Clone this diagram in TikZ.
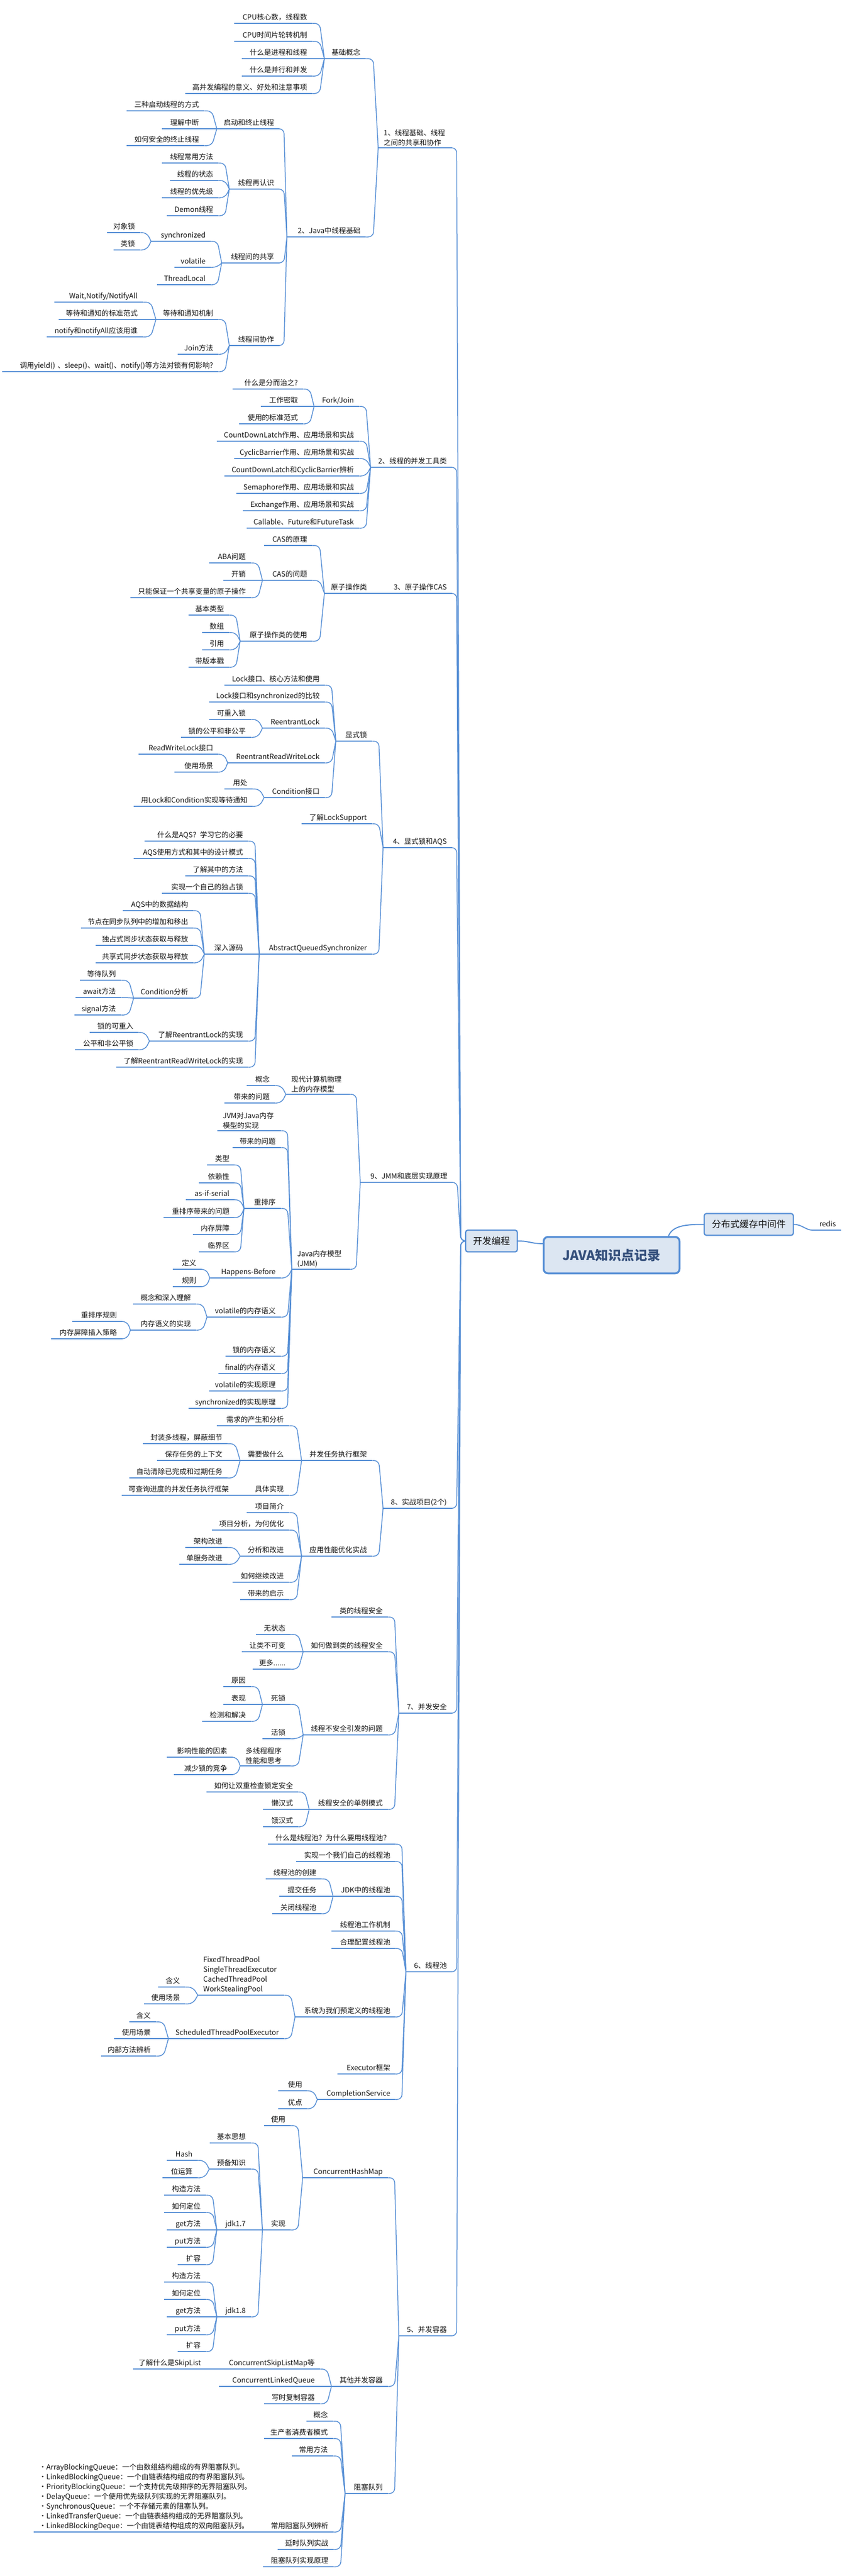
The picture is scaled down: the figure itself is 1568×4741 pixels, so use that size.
\documentclass[tikz,border=0pt]{standalone}
\usepackage{fontspec}
\setmainfont{Noto Sans CJK SC}
\usetikzlibrary{calc,backgrounds}
\definecolor{ln}{HTML}{558ED5}
\definecolor{txt}{HTML}{111111}
\definecolor{rootfill}{HTML}{DCE6F2}
\definecolor{roottxt}{HTML}{35507C}
\definecolor{bfill}{HTML}{EFF4E2}
\definecolor{bline}{HTML}{8DA84A}
\newcommand\fs{\fontsize{13.2}{18}\selectfont}
\tikzset{
 tp/.style={anchor=south west, inner xsep=10pt, inner ysep=3pt, align=right, font=\fs, text=txt, text height=10pt, text depth=3pt},
 tpm/.style={anchor=south west, inner xsep=10pt, inner ysep=3pt, align=left, font=\fs, text=txt},
 ulin/.style={draw=ln, line width=2.4pt},
 conn/.style={draw=ln, line width=1.5pt, rounded corners=9pt},
 rootbox/.style={draw=ln, line width=3.5pt, fill=rootfill, rounded corners=8pt, minimum width=250pt, minimum height=67pt, font=\fontsize{24}{28}\selectfont\bfseries, text=roottxt},
 midbox/.style={draw=ln, line width=2.2pt, fill=rootfill, rounded corners=4pt, minimum height=40pt, font=\fontsize{17}{20}\selectfont, text=txt},
 bnd/.style={draw=bline, line width=2pt, dash pattern=on 3pt off 2pt, fill=bfill, rounded corners=3pt}
}
\newcommand\TP[5]{\pgfmathsetmacro\tpw{#3-#2-20}\node[tp, text width=\tpw pt] (#1) at (#2,#4) {#5};\draw[ulin] (#1.south west) -- (#1.south east);}
\newcommand\TPM[5]{\pgfmathsetmacro\tpw{#3-#2-20}\node[tpm, text width=\tpw pt] (#1) at (#2,#4) {#5};\draw[ulin] (#1.south west) -- (#1.south east);}
\newcommand\CN[2]{\draw[conn] (#1.south east) -- ($(#1.south east)!0.6!(#2.south west |- #1.south east)$) -- (#2.south west);}
\newcommand\TK[1]{\draw[conn] (#1.south east) -- ++(8,0) -- ([xshift=-8pt]kfbc.west) -- (kfbc.west);}
\begin{document}
\begin{tikzpicture}[x=1pt,y=-1pt]
\fill[white] (0,0) rectangle (1568,4741);
\useasboundingbox (0,0) rectangle (1568,4741);
% ---------- central ----------
\node[rootbox] (root) at (1125.5,2310) {JAVA知识点记录};
\node[midbox, minimum width=95pt] (kfbc) at (904.5,2284) {开发编程};
\node[midbox, minimum width=164pt] (dist) at (1378,2253.5) {分布式缓存中间件};
\TP{redis}{1495}{1548}{2264}{redis}
\begin{scope}[on background layer]
\draw[bnd] ([shift={(-8,-37)}]redis.south west) rectangle ([shift={(8,10)}]redis.south east);
\end{scope}
\draw[draw=ln, line width=2pt] (kfbc.east) .. controls +(22,0) and +(-22,0) .. ($(root.north west)!0.2!(root.south west)$);
\draw[draw=ln, line width=2pt] ([xshift=-22pt]root.north east) .. controls +(8,-20) and +(-30,0) .. (dist.west);
\draw[draw=ln, line width=1.8pt] (dist.east) .. controls +(15,0) and +(-12,0) .. (redis.south west);
% ---------- section 1 ----------
\TPM{s1}{696}{832}{272}{1、线程基础、线程\\之间的共享和协作}
\TP{jc}{597}{673}{108}{基础概念}
\TP{a1}{431}{575}{43}{CPU核心数，线程数}
\TP{a2}{431}{575}{76}{CPU时间片轮转机制}
\TP{a3}{445}{575}{108}{什么是进程和线程}
\TP{a4}{445}{575}{140}{什么是并行和并发}
\TP{a5}{341}{575}{172}{高并发编程的意义、好处和注意事项}
\TP{s2j}{528}{673}{436}{2、Java中线程基础}
\TP{qz}{399}{514}{237}{启动和终止线程}
\TP{b1}{233}{376}{204}{三种启动线程的方式}
\TP{b2}{298}{376}{237}{理解中断}
\TP{b3}{233}{376}{268}{如何安全的终止线程}
\TP{zrs}{422}{514}{348}{线程再认识}
\TP{c1}{298}{402}{300}{线程常用方法}
\TP{c2}{313}{402}{332}{线程的状态}
\TP{c3}{298}{402}{364}{线程的优先级}
\TP{c4}{307}{402}{397}{Demon线程}
\TP{gx}{408}{514}{484}{线程间的共享}
\TP{sy}{278}{388}{444}{synchronized}
\TP{d1}{197}{258}{428}{对象锁}
\TP{d2}{209}{258}{460}{类锁}
\TP{d3}{321}{388}{492}{volatile}
\TP{d4}{289}{388}{524}{ThreadLocal}
\TP{xz}{422}{514}{636}{线程间协作}
\TP{dd}{287}{402}{588}{等待和通知机制}
\TP{e1}{100}{263}{556}{Wait,Notify/NotifyAll}
\TP{e2}{108}{263}{588}{等待和通知的标准范式}
\TP{e3}{86}{263}{620}{notify和notifyAll应该用谁}
\TP{e4}{327}{402}{652}{Join方法}
\TP{e5}{4}{402}{684}{调用yield() 、sleep()、wait()、notify()等方法对锁有何影响?}
\CN{jc}{s1}\CN{s2j}{s1}
\CN{a1}{jc}\CN{a2}{jc}\CN{a3}{jc}\CN{a4}{jc}\CN{a5}{jc}
\CN{qz}{s2j}\CN{zrs}{s2j}\CN{gx}{s2j}\CN{xz}{s2j}
\CN{b1}{qz}\CN{b2}{qz}\CN{b3}{qz}
\CN{c1}{zrs}\CN{c2}{zrs}\CN{c3}{zrs}\CN{c4}{zrs}
\CN{sy}{gx}\CN{d3}{gx}\CN{d4}{gx}
\CN{d1}{sy}\CN{d2}{sy}
\CN{dd}{xz}\CN{e4}{xz}\CN{e5}{xz}
\CN{e1}{dd}\CN{e2}{dd}\CN{e3}{dd}
% ---------- section 2 tools ----------
\TP{s2t}{682}{832}{860}{2、线程的并发工具类}
\TP{fj}{578}{661}{748}{Fork/Join}
\TP{f1}{428}{558}{716}{什么是分而治之?}
\TP{f2}{480}{558}{748}{工作密取}
\TP{f3}{440}{558}{780}{使用的标准范式}
\TP{g1}{399}{661}{812}{CountDownLatch作用、应用场景和实战}
\TP{g2}{431}{661}{844}{CyclicBarrier作用、应用场景和实战}
\TP{g3}{413}{661}{876}{CountDownLatch和CyclicBarrier辨析}
\TP{g4}{435}{661}{908}{Semaphore作用、应用场景和实战}
\TP{g5}{447}{661}{940}{Exchange作用、应用场景和实战}
\TP{g6}{454}{661}{972}{Callable、Future和FutureTask}
\CN{fj}{s2t}\CN{g1}{s2t}\CN{g2}{s2t}\CN{g3}{s2t}\CN{g4}{s2t}\CN{g5}{s2t}\CN{g6}{s2t}
\CN{f1}{fj}\CN{f2}{fj}\CN{f3}{fj}
% ---------- section 3 ----------
\TP{s3}{711}{832}{1092}{3、原子操作CAS}
\TP{yzl}{597}{685}{1092}{原子操作类}
\TP{h1}{486}{575}{1004}{CAS的原理}
\TP{casq}{483}{575}{1068}{CAS的问题}
\TP{h2}{385}{462}{1036}{ABA问题}
\TP{h3}{411}{462}{1068}{开销}
\TP{h4}{240}{462}{1100}{只能保证一个共享变量的原子操作}
\TP{ysy}{442}{575}{1180}{原子操作类的使用}
\TP{i1}{347}{422}{1132}{基本类型}
\TP{i2}{372}{422}{1164}{数组}
\TP{i3}{372}{422}{1196}{引用}
\TP{i4}{347}{422}{1228}{带版本戳}
\CN{yzl}{s3}
\CN{h1}{yzl}\CN{casq}{yzl}\CN{ysy}{yzl}
\CN{h2}{casq}\CN{h3}{casq}\CN{h4}{casq}
\CN{i1}{ysy}\CN{i2}{ysy}\CN{i3}{ysy}\CN{i4}{ysy}
% ---------- section 4 ----------
\TP{s4}{705}{832}{1560}{4、显式锁和AQS}
\TP{xsl}{618}{685}{1364}{显式锁}
\TP{j1}{413}{598}{1261}{Lock接口、核心方法和使用}
\TP{j2}{385}{598}{1292}{Lock接口和synchronized的比较}
\TP{rl}{483}{598}{1340}{ReentrantLock}
\TP{j3}{385}{462}{1324}{可重入锁}
\TP{j4}{333}{462}{1357}{锁的公平和非公平}
\TP{rrwl}{419}{598}{1404}{ReentrantReadWriteLock}
\TP{j5}{255}{402}{1388}{ReadWriteLock接口}
\TP{j6}{321}{402}{1421}{使用场景}
\TP{cond}{486}{598}{1468}{Condition接口}
\TP{j7}{413}{465}{1452}{用处}
\TP{j8}{246}{465}{1484}{用Lock和Condition实现等待通知}
\TP{lsup}{555}{685}{1516}{了解LockSupport}
\TP{aqs}{477}{685}{1756}{AbstractQueuedSynchronizer}
\TP{k1}{266}{457}{1548}{什么是AQS？学习它的必要}
\TP{k2}{246}{457}{1580}{AQS使用方式和其中的设计模式}
\TP{k3}{341}{457}{1612}{了解其中的方法}
\TP{k4}{298}{457}{1644}{实现一个自己的独占锁}
\TP{srym}{376}{457}{1756}{深入源码}
\TP{k5}{226}{356}{1676}{AQS中的数据结构}
\TP{k6}{149}{356}{1708}{节点在同步队列中的增加和移出}
\TP{k7}{176}{356}{1740}{独占式同步状态获取与释放}
\TP{k8}{176}{356}{1772}{共享式同步状态获取与释放}
\TP{cfx}{246}{356}{1837}{Condition分析}
\TP{k9}{147}{223}{1804}{等待队列}
\TP{k10}{139}{223}{1836}{await方法}
\TP{k11}{137}{223}{1868}{signal方法}
\TP{rlsx}{275}{457}{1916}{了解ReentrantLock的实现}
\TP{k12}{165}{255}{1900}{锁的可重入}
\TP{k13}{138}{255}{1932}{公平和非公平锁}
\TP{k14}{214}{457}{1964}{了解ReentrantReadWriteLock的实现}
\CN{xsl}{s4}\CN{lsup}{s4}\CN{aqs}{s4}
\CN{j1}{xsl}\CN{j2}{xsl}\CN{rl}{xsl}\CN{rrwl}{xsl}\CN{cond}{xsl}
\CN{j3}{rl}\CN{j4}{rl}\CN{j5}{rrwl}\CN{j6}{rrwl}\CN{j7}{cond}\CN{j8}{cond}
\CN{k1}{aqs}\CN{k2}{aqs}\CN{k3}{aqs}\CN{k4}{aqs}\CN{srym}{aqs}\CN{rlsx}{aqs}\CN{k14}{aqs}
\CN{k5}{srym}\CN{k6}{srym}\CN{k7}{srym}\CN{k8}{srym}\CN{cfx}{srym}
\CN{k9}{cfx}\CN{k10}{cfx}\CN{k11}{cfx}
\CN{k12}{rlsx}\CN{k13}{rlsx}
% ---------- section 9 ----------
\TP{s9}{663}{833}{2176}{9、JMM和底层实现原理}
\TPM{xd}{526}{644}{2014}{现代计算机物理\\上的内存模型}
\TP{l1}{454}{506}{1998}{概念}
\TP{l2}{413}{506}{2030}{带来的问题}
\TPM{jmm}{537}{644}{2336}{Java内存模型\\(JMM)}
\TPM{jvm}{400}{517}{2081}{JVM对Java内存\\模型的实现}
\TP{m1}{428}{517}{2112}{带来的问题}
\TP{cpx}{449}{517}{2224}{重排序}
\TP{m2}{381}{432}{2144}{类型}
\TP{m3}{366}{432}{2177}{依赖性}
\TP{m4}{342}{432}{2208}{as-if-serial}
\TP{m5}{301}{432}{2241}{重排序带来的问题}
\TP{m6}{355}{432}{2272}{内存屏障}
\TP{m7}{366}{432}{2304}{临界区}
\TP{hb}{386}{517}{2352}{Happens-Before}
\TP{m8}{318}{371}{2336}{定义}
\TP{m9}{318}{371}{2368}{规则}
\TP{vnc}{381}{517}{2424}{volatile的内存语义}
\TP{m10}{245}{361}{2400}{概念和深入理解}
\TP{ncsx}{240}{361}{2448}{内存语义的实现}
\TP{m11}{133}{225}{2432}{重排序规则}
\TP{m12}{94}{225}{2464}{内存屏障插入策略}
\TP{m13}{415}{517}{2496}{锁的内存语义}
\TP{m14}{402}{517}{2528}{final的内存语义}
\TP{m15}{385}{517}{2560}{volatile的实现原理}
\TP{m16}{347}{517}{2592}{synchronized的实现原理}
\CN{xd}{s9}\CN{jmm}{s9}
\CN{l1}{xd}\CN{l2}{xd}
\CN{jvm}{jmm}\CN{m1}{jmm}\CN{cpx}{jmm}\CN{hb}{jmm}\CN{vnc}{jmm}\CN{m13}{jmm}\CN{m14}{jmm}\CN{m15}{jmm}\CN{m16}{jmm}
\CN{m2}{cpx}\CN{m3}{cpx}\CN{m4}{cpx}\CN{m5}{cpx}\CN{m6}{cpx}\CN{m7}{cpx}
\CN{m8}{hb}\CN{m9}{hb}
\CN{m10}{vnc}\CN{ncsx}{vnc}
\CN{m11}{ncsx}\CN{m12}{ncsx}
% ---------- section 8 ----------
\TP{s8}{705}{832}{2776}{8、实战项目(2个)}
\TP{bf}{555}{685}{2688}{并发任务执行框架}
\TP{n1}{399}{532}{2624}{需求的产生和分析}
\TP{xyz}{442}{532}{2688}{需要做什么}
\TP{n2}{263}{419}{2657}{封装多线程，屏蔽细节}
\TP{n3}{289}{419}{2688}{保存任务的上下文}
\TP{n4}{238}{419}{2720}{自动清除已完成和过期任务}
\TP{jtsx}{454}{532}{2752}{具体实现}
\TP{n5}{224}{431}{2752}{可查询进度的并发任务执行框架}
\TP{yy}{555}{685}{2864}{应用性能优化实战}
\TP{n6}{454}{532}{2784}{项目简介}
\TP{n7}{390}{532}{2816}{项目分析，为何优化}
\TP{fxgj}{442}{532}{2864}{分析和改进}
\TP{n8}{341}{419}{2848}{架构改进}
\TP{n9}{330}{419}{2879}{单服务改进}
\TP{n10}{428}{532}{2912}{如何继续改进}
\TP{n11}{442}{532}{2944}{带来的启示}
\CN{bf}{s8}\CN{yy}{s8}
\CN{n1}{bf}\CN{xyz}{bf}\CN{jtsx}{bf}
\CN{n2}{xyz}\CN{n3}{xyz}\CN{n4}{xyz}
\CN{n5}{jtsx}
\CN{n6}{yy}\CN{n7}{yy}\CN{fxgj}{yy}\CN{n10}{yy}\CN{n11}{yy}
\CN{n8}{fxgj}\CN{n9}{fxgj}
% ---------- section 7 ----------
\TP{s7}{734}{832}{3153}{7、并发安全}
\TP{o1}{610}{714}{2976}{类的线程安全}
\TP{rhzd}{558}{714}{3040}{如何做到类的线程安全}
\TP{o2}{471}{535}{3008}{无状态}
\TP{o3}{445}{535}{3040}{让类不可变}
\TP{o4}{465}{535}{3072}{更多......}
\TP{bq}{558}{714}{3193}{线程不安全引发的问题}
\TP{ss}{483}{535}{3137}{死锁}
\TP{o5}{411}{462}{3104}{原因}
\TP{o6}{411}{462}{3137}{表现}
\TP{o7}{372}{462}{3168}{检测和解决}
\TP{o8}{483}{535}{3200}{活锁}
\TPM{dxc}{442}{535}{3250}{多线程程序\\性能和思考}
\TP{o9}{307}{428}{3234}{影响性能的因素}
\TP{o10}{320}{428}{3266}{减少锁的竞争}
\TP{dl}{569}{714}{3330}{线程安全的单例模式}
\TP{o11}{380}{549}{3298}{如何让双重检查锁定安全}
\TP{o12}{484}{549}{3330}{懒汉式}
\TP{o13}{484}{549}{3362}{饿汉式}
\CN{o1}{s7}\CN{rhzd}{s7}\CN{bq}{s7}\CN{dl}{s7}
\CN{o2}{rhzd}\CN{o3}{rhzd}\CN{o4}{rhzd}
\CN{ss}{bq}\CN{o8}{bq}\CN{dxc}{bq}
\CN{o5}{ss}\CN{o6}{ss}\CN{o7}{ss}
\CN{o9}{dxc}\CN{o10}{dxc}
\CN{o11}{dl}\CN{o12}{dl}\CN{o13}{dl}
% ---------- section 6 ----------
\TP{s6}{747}{832}{3629}{6、线程池}
\TP{p1}{493}{728}{3394}{什么是线程池？为什么要用线程池？}
\TP{p2}{545}{728}{3426}{实现一个我们自己的线程池}
\TP{jdk}{613}{728}{3490}{JDK中的线程池}
\TP{p3}{489}{592}{3458}{线程池的创建}
\TP{p4}{514}{592}{3490}{提交任务}
\TP{p5}{501}{592}{3522}{关闭线程池}
\TP{p6}{610}{728}{3554}{线程池工作机制}
\TP{p7}{610}{728}{3586}{合理配置线程池}
\TP{xtyd}{543}{728}{3712}{系统为我们预定义的线程池}
\TPM{fix}{364}{523}{3672}{FixedThreadPool\\SingleThreadExecutor\\CachedThreadPool\\WorkStealingPool}
\TP{p8}{291}{341}{3657}{含义}
\TP{p9}{265}{341}{3688}{使用场景}
\TP{sch}{310}{523}{3752}{ScheduledThreadPoolExecutor}
\TP{p10}{238}{287}{3721}{含义}
\TP{p11}{210}{287}{3752}{使用场景}
\TP{p12}{186}{287}{3784}{内部方法辨析}
\TP{p13}{621}{728}{3817}{Executor框架}
\TP{cs}{584}{728}{3864}{CompletionService}
\TP{p14}{512}{566}{3848}{使用}
\TP{p15}{512}{566}{3881}{优点}
\CN{p1}{s6}\CN{p2}{s6}\CN{jdk}{s6}\CN{p6}{s6}\CN{p7}{s6}\CN{xtyd}{s6}\CN{p13}{s6}\CN{cs}{s6}
\CN{p3}{jdk}\CN{p4}{jdk}\CN{p5}{jdk}
\CN{fix}{xtyd}\CN{sch}{xtyd}
\CN{p8}{fix}\CN{p9}{fix}
\CN{p10}{sch}\CN{p11}{sch}\CN{p12}{sch}
\CN{p14}{cs}\CN{p15}{cs}
% ---------- section 5 ----------
\TP{s5}{734}{832}{4299}{5、并发容器}
\TP{chm}{557}{714}{4008}{ConcurrentHashMap}
\TP{q1}{486}{535}{3912}{使用}
\TP{shx}{483}{535}{4104}{实现}
\TP{q2}{386}{462}{3944}{基本思想}
\TP{ybzs}{385}{462}{3992}{预备知识}
\TP{q3}{307}{364}{3976}{Hash}
\TP{q4}{299}{364}{4008}{位运算}
\TP{j17}{399}{462}{4104}{jdk1.7}
\TP{r1}{302}{379}{4040}{构造方法}
\TP{r2}{302}{379}{4072}{如何定位}
\TP{r3}{307}{379}{4104}{get方法}
\TP{r4}{307}{379}{4136}{put方法}
\TP{r5}{327}{379}{4168}{扩容}
\TP{j18}{399}{462}{4264}{jdk1.8}
\TP{t1}{302}{379}{4200}{构造方法}
\TP{t2}{302}{379}{4232}{如何定位}
\TP{t3}{307}{379}{4264}{get方法}
\TP{t4}{307}{379}{4297}{put方法}
\TP{t5}{327}{379}{4328}{扩容}
\TP{qt}{610}{714}{4392}{其他并发容器}
\TP{cslm}{403}{589}{4360}{ConcurrentSkipListMap等}
\TP{u1}{245}{379}{4360}{了解什么是SkipList}
\TP{u2}{403}{589}{4392}{ConcurrentLinkedQueue}
\TP{u3}{486}{589}{4424}{写时复制容器}
\TP{zsdl}{635}{714}{4589}{阻塞队列}
\TP{v1}{564}{613}{4456}{概念}
\TP{v2}{486}{613}{4488}{生产者消费者模式}
\TP{v3}{537}{613}{4520}{常用方法}
\TP{cybx}{484}{614}{4660}{常用阻塞队列辨析}
\TPM{qb}{62}{461}{4660}{·ArrayBlockingQueue：一个由数组结构组成的有界阻塞队列。\\·LinkedBlockingQueue：一个由链表结构组成的有界阻塞队列。\\·PriorityBlockingQueue：一个支持优先级排序的无界阻塞队列。\\·DelayQueue：一个使用优先级队列实现的无界阻塞队列。\\·SynchronousQueue：一个不存储元素的阻塞队列。\\·LinkedTransferQueue：一个由链表结构组成的无界阻塞队列。\\·LinkedBlockingDeque：一个由链表结构组成的双向阻塞队列。}
\TP{v4}{511}{614}{4692}{延时队列实战}
\TP{v5}{484}{614}{4724}{阻塞队列实现原理}
\CN{chm}{s5}\CN{qt}{s5}\CN{zsdl}{s5}
\CN{q1}{chm}\CN{shx}{chm}
\CN{q2}{shx}\CN{ybzs}{shx}\CN{j17}{shx}\CN{j18}{shx}
\CN{q3}{ybzs}\CN{q4}{ybzs}
\CN{r1}{j17}\CN{r2}{j17}\CN{r3}{j17}\CN{r4}{j17}\CN{r5}{j17}
\CN{t1}{j18}\CN{t2}{j18}\CN{t3}{j18}\CN{t4}{j18}\CN{t5}{j18}
\CN{cslm}{qt}\CN{u2}{qt}\CN{u3}{qt}
\CN{u1}{cslm}
\CN{v1}{zsdl}\CN{v2}{zsdl}\CN{v3}{zsdl}\CN{cybx}{zsdl}\CN{v4}{zsdl}\CN{v5}{zsdl}
\CN{qb}{cybx}
% ---------- trunk ----------
\TK{s1}\TK{s2t}\TK{s3}\TK{s4}\TK{s9}\TK{s8}\TK{s7}\TK{s6}\TK{s5}
\end{tikzpicture}
\end{document}
